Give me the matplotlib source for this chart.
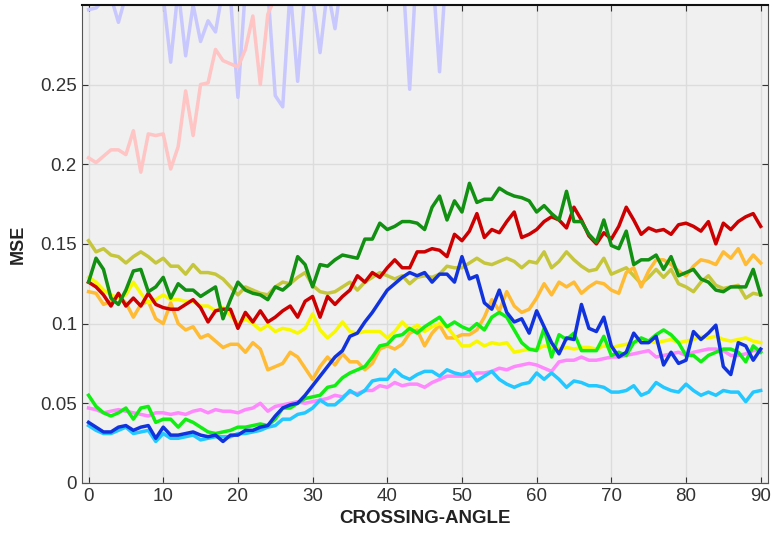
import numpy as np
import matplotlib
matplotlib.use('Agg')
import matplotlib.pyplot as plt

plt.rcParams['font.family'] = ['Liberation Sans', 'DejaVu Sans']

# crossing angle 0..90
angle = list(range(91))

lavender = [0.297, 0.298, 0.303, 0.305, 0.289, 0.306, 0.310, 0.310, 0.312, 0.310,
            0.305, 0.264, 0.310, 0.268, 0.300, 0.277, 0.290, 0.283, 0.310, 0.305,
            0.242, 0.310, 0.305, 0.310, 0.310, 0.243, 0.236, 0.310, 0.252, 0.310,
            0.305, 0.270, 0.310, 0.285, 0.320, 0.325, 0.318, 0.330, 0.322, 0.328,
            0.335, 0.320, 0.326, 0.247, 0.330, 0.334, 0.325, 0.258, 0.330, 0.338,
            0.332, 0.340, 0.336, 0.342, 0.338, 0.345, 0.340, 0.336, 0.344, 0.340,
            0.348, 0.342, 0.346, 0.340, 0.350, 0.344, 0.348, 0.352, 0.346, 0.350,
            0.354, 0.348, 0.352, 0.356, 0.350, 0.354, 0.358, 0.352, 0.356, 0.360,
            0.354, 0.358, 0.362, 0.356, 0.360, 0.364, 0.358, 0.362, 0.366, 0.360, 0.364]

pink = [0.204, 0.201, 0.205, 0.209, 0.209, 0.206, 0.221, 0.195, 0.219, 0.218,
        0.219, 0.197, 0.211, 0.246, 0.218, 0.250, 0.251, 0.272, 0.265, 0.263,
        0.261, 0.272, 0.293, 0.250, 0.294, 0.305, 0.312, 0.318, 0.315, 0.322,
        0.326, 0.320, 0.328, 0.332, 0.327, 0.335, 0.331, 0.338, 0.334, 0.340,
        0.336, 0.342, 0.338, 0.345, 0.340, 0.347, 0.343, 0.349, 0.345, 0.351,
        0.347, 0.352, 0.348, 0.354, 0.350, 0.355, 0.351, 0.357, 0.353, 0.358,
        0.354, 0.360, 0.356, 0.361, 0.357, 0.362, 0.358, 0.364, 0.360, 0.365,
        0.361, 0.366, 0.362, 0.368, 0.364, 0.369, 0.365, 0.370, 0.366, 0.372,
        0.368, 0.373, 0.369, 0.374, 0.370, 0.376, 0.372, 0.377, 0.373, 0.378, 0.374]

olive = [0.152, 0.145, 0.147, 0.143, 0.142, 0.138, 0.142, 0.145, 0.142, 0.138,
         0.141, 0.136, 0.136, 0.131, 0.137, 0.132, 0.132, 0.131, 0.128, 0.123,
         0.118, 0.123, 0.121, 0.119, 0.118, 0.123, 0.126, 0.125, 0.129, 0.132,
         0.124, 0.120, 0.119, 0.120, 0.123, 0.126, 0.121, 0.126, 0.129, 0.132,
         0.130, 0.128, 0.130, 0.125, 0.129, 0.130, 0.129, 0.131, 0.136, 0.135,
         0.135, 0.138, 0.141, 0.138, 0.137, 0.139, 0.141, 0.139, 0.135, 0.139,
         0.138, 0.145, 0.135, 0.139, 0.145, 0.140, 0.136, 0.133, 0.134, 0.141,
         0.131, 0.133, 0.135, 0.130, 0.125, 0.129, 0.134, 0.129, 0.134, 0.125,
         0.123, 0.120, 0.126, 0.130, 0.124, 0.122, 0.123, 0.124, 0.116, 0.119, 0.118]

dark_green = [0.126, 0.141, 0.134, 0.116, 0.112, 0.121, 0.133, 0.134, 0.120, 0.123,
              0.129, 0.116, 0.125, 0.121, 0.121, 0.117, 0.120, 0.123, 0.103, 0.115,
              0.126, 0.121, 0.119, 0.118, 0.115, 0.123, 0.121, 0.125, 0.142, 0.137,
              0.123, 0.137, 0.136, 0.140, 0.143, 0.142, 0.141, 0.153, 0.153, 0.163,
              0.159, 0.161, 0.164, 0.164, 0.163, 0.159, 0.173, 0.180, 0.165, 0.177,
              0.170, 0.188, 0.176, 0.178, 0.178, 0.185, 0.182, 0.180, 0.179, 0.177,
              0.170, 0.174, 0.169, 0.165, 0.183, 0.164, 0.164, 0.156, 0.151, 0.165,
              0.149, 0.147, 0.158, 0.137, 0.140, 0.140, 0.143, 0.134, 0.142, 0.130,
              0.132, 0.134, 0.128, 0.126, 0.121, 0.120, 0.123, 0.123, 0.123, 0.134, 0.118]

red = [0.126, 0.123, 0.118, 0.111, 0.119, 0.111, 0.116, 0.111, 0.119, 0.112,
       0.110, 0.109, 0.109, 0.112, 0.115, 0.110, 0.101, 0.108, 0.109, 0.109,
       0.097, 0.107, 0.101, 0.108, 0.101, 0.104, 0.108, 0.111, 0.104, 0.114,
       0.117, 0.104, 0.117, 0.112, 0.117, 0.121, 0.130, 0.126, 0.132, 0.129,
       0.135, 0.140, 0.135, 0.135, 0.145, 0.145, 0.147, 0.146, 0.142, 0.156,
       0.152, 0.158, 0.169, 0.154, 0.159, 0.157, 0.164, 0.170, 0.154, 0.156,
       0.159, 0.164, 0.167, 0.165, 0.160, 0.173, 0.165, 0.155, 0.150, 0.157,
       0.153, 0.161, 0.173, 0.165, 0.156, 0.160, 0.158, 0.159, 0.156, 0.162,
       0.163, 0.161, 0.158, 0.164, 0.150, 0.163, 0.159, 0.164, 0.167, 0.169, 0.161]

yellow = [0.129, 0.126, 0.121, 0.118, 0.116, 0.118, 0.126, 0.119, 0.113, 0.115,
          0.118, 0.115, 0.115, 0.114, 0.114, 0.111, 0.111, 0.108, 0.110, 0.105,
          0.100, 0.103, 0.100, 0.096, 0.099, 0.095, 0.097, 0.096, 0.094, 0.097,
          0.106, 0.096, 0.091, 0.095, 0.101, 0.095, 0.094, 0.095, 0.095, 0.095,
          0.091, 0.095, 0.101, 0.096, 0.099, 0.095, 0.098, 0.100, 0.098, 0.092,
          0.086, 0.086, 0.089, 0.086, 0.088, 0.087, 0.088, 0.082, 0.083, 0.084,
          0.084, 0.086, 0.085, 0.084, 0.085, 0.084, 0.085, 0.085, 0.084, 0.086,
          0.085, 0.086, 0.087, 0.088, 0.090, 0.089, 0.088, 0.089, 0.090, 0.088,
          0.089, 0.090, 0.092, 0.091, 0.092, 0.090, 0.089, 0.090, 0.091, 0.089, 0.088]

orange = [0.120, 0.119, 0.112, 0.114, 0.117, 0.113, 0.104, 0.112, 0.114, 0.103,
          0.100, 0.113, 0.100, 0.096, 0.098, 0.091, 0.093, 0.089, 0.085, 0.087,
          0.087, 0.082, 0.088, 0.084, 0.071, 0.073, 0.075, 0.082, 0.079, 0.072,
          0.065, 0.073, 0.079, 0.074, 0.081, 0.076, 0.076, 0.071, 0.075, 0.084,
          0.086, 0.084, 0.087, 0.094, 0.096, 0.086, 0.094, 0.099, 0.091, 0.091,
          0.093, 0.093, 0.096, 0.104, 0.115, 0.108, 0.120, 0.111, 0.107, 0.109,
          0.116, 0.125, 0.118, 0.126, 0.123, 0.126, 0.119, 0.123, 0.126, 0.125,
          0.121, 0.119, 0.132, 0.135, 0.123, 0.133, 0.140, 0.140, 0.137, 0.133,
          0.130, 0.136, 0.140, 0.139, 0.137, 0.145, 0.141, 0.147, 0.137, 0.143, 0.138]

green = [0.055, 0.048, 0.044, 0.042, 0.044, 0.047, 0.040, 0.047, 0.048, 0.038,
         0.040, 0.040, 0.035, 0.040, 0.038, 0.035, 0.032, 0.031, 0.032, 0.033,
         0.035, 0.035, 0.036, 0.037, 0.036, 0.040, 0.047, 0.047, 0.050, 0.053,
         0.054, 0.055, 0.060, 0.061, 0.066, 0.069, 0.071, 0.073, 0.079, 0.086,
         0.087, 0.092, 0.093, 0.097, 0.094, 0.098, 0.101, 0.104, 0.098, 0.101,
         0.098, 0.096, 0.100, 0.096, 0.104, 0.107, 0.104, 0.096, 0.088, 0.084,
         0.083, 0.097, 0.079, 0.093, 0.090, 0.094, 0.083, 0.083, 0.083, 0.092,
         0.080, 0.082, 0.080, 0.088, 0.091, 0.089, 0.093, 0.096, 0.093, 0.088,
         0.080, 0.080, 0.076, 0.080, 0.082, 0.084, 0.084, 0.082, 0.076, 0.086, 0.082]

magenta = [0.047, 0.046, 0.044, 0.045, 0.046, 0.045, 0.044, 0.043, 0.042, 0.044,
           0.044, 0.043, 0.044, 0.043, 0.045, 0.046, 0.044, 0.046, 0.045, 0.045,
           0.044, 0.046, 0.047, 0.050, 0.045, 0.048, 0.049, 0.050, 0.051, 0.050,
           0.051, 0.052, 0.053, 0.055, 0.054, 0.057, 0.056, 0.058, 0.058, 0.061,
           0.060, 0.063, 0.061, 0.062, 0.062, 0.060, 0.063, 0.065, 0.067, 0.067,
           0.067, 0.067, 0.069, 0.069, 0.070, 0.072, 0.071, 0.073, 0.074, 0.075,
           0.074, 0.072, 0.070, 0.076, 0.077, 0.077, 0.079, 0.077, 0.077, 0.078,
           0.079, 0.079, 0.080, 0.081, 0.082, 0.083, 0.079, 0.080, 0.081, 0.082,
           0.080, 0.082, 0.083, 0.084, 0.084, 0.083, 0.080, 0.080, 0.081, 0.083, 0.083]

blue = [0.038, 0.035, 0.032, 0.032, 0.035, 0.036, 0.033, 0.035, 0.036, 0.028,
        0.035, 0.030, 0.030, 0.031, 0.032, 0.030, 0.029, 0.030, 0.026, 0.030,
        0.030, 0.033, 0.033, 0.035, 0.036, 0.042, 0.047, 0.049, 0.050, 0.055,
        0.061, 0.067, 0.073, 0.079, 0.083, 0.092, 0.094, 0.101, 0.107, 0.114,
        0.121, 0.125, 0.129, 0.132, 0.130, 0.132, 0.126, 0.131, 0.131, 0.126,
        0.142, 0.128, 0.130, 0.113, 0.109, 0.121, 0.107, 0.101, 0.103, 0.094,
        0.108, 0.098, 0.088, 0.081, 0.091, 0.090, 0.112, 0.097, 0.095, 0.104,
        0.086, 0.079, 0.082, 0.094, 0.088, 0.088, 0.092, 0.074, 0.082, 0.075,
        0.077, 0.095, 0.090, 0.094, 0.099, 0.073, 0.068, 0.088, 0.086, 0.077, 0.084]

cyan = [0.036, 0.033, 0.031, 0.031, 0.033, 0.035, 0.031, 0.032, 0.033, 0.026,
        0.031, 0.028, 0.028, 0.029, 0.030, 0.027, 0.028, 0.029, 0.029, 0.029,
        0.031, 0.031, 0.032, 0.033, 0.035, 0.036, 0.040, 0.040, 0.043, 0.044,
        0.047, 0.052, 0.049, 0.049, 0.053, 0.058, 0.055, 0.058, 0.064, 0.065,
        0.065, 0.071, 0.067, 0.065, 0.068, 0.070, 0.070, 0.067, 0.071, 0.069,
        0.068, 0.070, 0.064, 0.067, 0.070, 0.065, 0.062, 0.060, 0.062, 0.063,
        0.069, 0.065, 0.069, 0.065, 0.060, 0.064, 0.063, 0.061, 0.061, 0.060,
        0.057, 0.057, 0.058, 0.061, 0.055, 0.057, 0.063, 0.060, 0.058, 0.057,
        0.062, 0.058, 0.055, 0.057, 0.055, 0.058, 0.057, 0.057, 0.051, 0.057, 0.058]

y_ticks = [0, 0.05, 0.1, 0.15, 0.2, 0.25]
y_tick_labels = ['0', '0.05', '0.1', '0.15', '0.2', '0.25']
x_ticks = [0, 10, 20, 30, 40, 50, 60, 70, 80, 90]

fig = plt.figure(figsize=(7.72, 5.36), dpi=100)
ax = fig.add_axes([0.106, 0.099, 0.889, 0.892])
ax.set_facecolor('#f0f0f0')

lw = 2.5
ax.plot(angle, lavender, color='#c8c8ff', lw=lw)
ax.plot(angle, pink, color='#ffc4c4', lw=lw)
ax.plot(angle, olive, color='#c6c63c', lw=lw)
ax.plot(angle, orange, color='#ffbb33', lw=lw)
ax.plot(angle, yellow, color='#f8f800', lw=lw)
ax.plot(angle, magenta, color='#ff88ff', lw=lw)
ax.plot(angle, cyan, color='#22c8ff', lw=lw)
ax.plot(angle, green, color='#11ee11', lw=lw)
ax.plot(angle, blue, color='#1133dd', lw=lw)
ax.plot(angle, red, color='#cc0000', lw=lw)
ax.plot(angle, dark_green, color='#119011', lw=lw)

ax.set_xlim(-0.9, 91)
ax.set_ylim(0, 0.3)
ax.set_xticks(x_ticks)
ax.set_yticks(y_ticks)
ax.set_yticklabels(y_tick_labels)
ax.grid(True, color='#dcdcdc', lw=1)
ax.set_axisbelow(True)
ax.tick_params(direction='in', top=True, right=True, labelsize=13.5,
               colors='#333333', length=4)
for side in ['left', 'bottom', 'right']:
    ax.spines[side].set_color('#555555')
ax.spines['top'].set_color('#111111')
ax.spines['top'].set_linewidth(1.5)

ax.set_xlabel('CROSSING-ANGLE', fontsize=13.5, fontweight='bold', color='#222222', labelpad=4)
ax.set_ylabel('MSE', fontsize=13, fontweight='bold', color='#222222', labelpad=10)

fig.savefig('out.png', dpi=100)
